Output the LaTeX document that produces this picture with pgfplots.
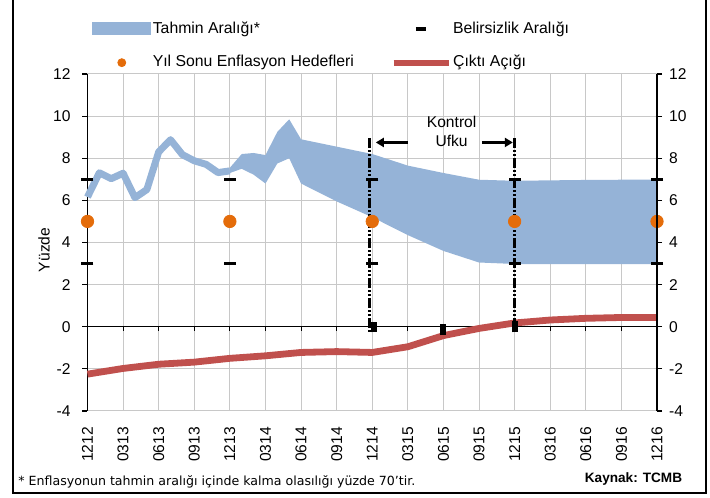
\documentclass[border=0pt]{standalone}
\usepackage{fontspec}
\setmainfont{Liberation Sans}
\newfontfamily\notefont{DejaVu Sans}
\usepackage{pgfplots}
\pgfplotsset{compat=1.18}
\usetikzlibrary{arrows.meta}
\definecolor{bandblue}{HTML}{95B3D7}
\definecolor{gapred}{HTML}{C0504D}
\definecolor{hedef}{HTML}{E46C0A}
\definecolor{gridgray}{HTML}{C8C8C8}
\pgfplotsset{
  common/.style={width=284.75pt, height=168.5pt, scale only axis,
    xmin=0, xmax=16, ymin=-4, ymax=12, ytick={-4,-2,...,12},
    tick align=outside, major tick length=2.5pt,
    /pgf/number format/assume math mode=true,
    tick label style={font=\fontsize{7.8}{9}\selectfont},
    clip=false, at={(0,0)}, anchor=south west,
    y axis line style={black, line width=0.6pt},
    ytick style={black, line width=0.6pt}}
}
\begin{document}
\begin{tikzpicture}
\useasboundingbox (-43.75pt,-43pt) rectangle (311.25pt,205.5pt);
\begin{axis}[common,
  axis y line*=left, axis x line*=bottom,
  x axis line style={draw=none},
  xtick={0,...,16},
  xticklabels={1212,0313,0613,0913,1213,0314,0614,0914,1214,0315,0615,0915,1215,0316,0616,0916,1216},
  xtick style={draw=none},
  xticklabel style={rotate=90, anchor=east},
  xticklabel shift=2pt,
  yticklabel shift=2.5pt,
  grid=major, grid style={gridgray, line width=0.5pt},
  ylabel={Yüzde},
  ylabel style={at={(axis description cs:-0.0764,0.478)}, anchor=center, font=\fontsize{7.8}{9}\selectfont},
  legend style={at={(axis description cs:0,1)}, anchor=south west, xshift=2.25pt, yshift=1pt,
    draw=none, fill=none, inner sep=0pt, legend columns=2,
    font=\fontsize{7.9}{9}\selectfont,
    /tikz/every even column/.append style={column sep=17.5pt},
    row sep=8pt, nodes={inner sep=0.8pt}},
  legend cell align=left,
]
\addlegendimage{legend image code/.code={\fill[bandblue] (0pt,-3pt) rectangle (29pt,3pt);}}
\addlegendimage{legend image code/.code={\path[draw=none] (0pt,0pt) -- (27.5pt,0pt); \draw[black, line width=2pt] (11.2pt,0pt) -- (16.3pt,0pt);}}
\addlegendimage{legend image code/.code={\path[draw=none] (0pt,0pt) -- (29pt,0pt); \fill[hedef] (14.5pt,0pt) circle (2pt);}}
\addlegendimage{legend image code/.code={\draw[gapred, line width=3pt] (0pt,0pt) -- (27.5pt,0pt);}}

% forecast band
\addplot[fill=bandblue, draw=none, forget plot] coordinates {
 (4,7.55) (4.333,8.2) (4.667,8.25) (5,8.15) (5.333,9.25) (5.667,9.85) (6,8.9)
 (7,8.55) (8,8.2) (9,7.65) (10,7.3) (11,6.98) (12,6.93) (13,6.95) (14,6.97) (15,6.98) (16,6.98)
 (16,2.97) (15,2.97) (14,2.97) (13,2.97) (12,2.98) (11,3.05) (10,3.6) (9,4.35) (8,5.2) (7,5.95)
 (6,6.8) (5.667,8.0) (5.333,7.75) (5,6.8) (4.667,7.22) (4.333,7.5) (4,7.3)
} -- cycle;
% realised inflation
\addplot[bandblue, line width=3.5pt, line join=round, forget plot] coordinates {
 (0,6.16) (0.333,7.31) (0.667,7.03) (1,7.29) (1.333,6.13) (1.667,6.51) (2,8.30)
 (2.333,8.88) (2.667,8.17) (3,7.88) (3.333,7.71) (3.667,7.32) (4,7.40)
};
% zero line
\draw[black, line width=0.6pt] (axis cs:0,0) -- (axis cs:16,0);
\pgfplotsinvokeforeach{1,...,15}{\draw[black, line width=0.5pt] (axis cs:#1,0) -- ++(0pt,-2pt);}
% output gap
\addplot[gapred, line width=3.4pt, line join=round, forget plot] coordinates {
 (0,-2.25) (1,-1.98) (2,-1.78) (3,-1.68) (4,-1.5) (5,-1.38) (6,-1.22) (7,-1.18) (8,-1.22)
 (9,-0.95) (10,-0.42) (11,-0.08) (12,0.18) (13,0.32) (14,0.40) (15,0.44) (16,0.44)
};
\addplot[black, line width=3pt, forget plot] coordinates {(8.05,-0.27) (8.05,0.22)};
\addplot[black, line width=3pt, forget plot] coordinates {(10,-0.4) (10,0.13)};
\addplot[black, line width=3pt, forget plot] coordinates {(12,-0.27) (12,0.28)};
% control horizon
\draw[black, line width=1.2pt, dash pattern=on 5pt off 1pt on 1pt off 1pt on 1pt off 1pt] (axis cs:7.92,8.95) -- (axis cs:7.92,-0.3);
\draw[black, line width=1.2pt, dash pattern=on 5pt off 1pt on 1pt off 1pt on 1pt off 1pt] (axis cs:12,8.95) -- (axis cs:12,-0.3);
\draw[black, line width=1.2pt, -{Triangle[length=4pt,width=4.5pt]}] (axis cs:9.0,8.75) -- (axis cs:8.1,8.75);
\draw[black, line width=1.2pt, -{Triangle[length=4pt,width=4.5pt]}] (axis cs:11.08,8.75) -- (axis cs:11.95,8.75);
\node[align=center, font=\fontsize{7.8}{9.5}\selectfont] at (axis cs:10.23,9.25) {Kontrol\\Ufku};
% uncertainty interval
\addplot[only marks, mark=-, mark size=3pt, mark options={line width=1.8pt, black}, forget plot] coordinates {
 (0,7) (4,7) (8,7) (12,7) (16,7) (0,3) (4,3) (8,3) (12,3) (16,3)};
% targets
\addplot[only marks, mark=*, mark size=3.1pt, hedef, mark options={draw=hedef, fill=hedef}, forget plot] coordinates {
 (0,5) (4,5) (8,5) (12,5) (16,5)};
\legend{Tahmin Aralığı*, Belirsizlik Aralığı, Yıl Sonu Enflasyon Hedefleri, Çıktı Açığı}
\end{axis}
\begin{axis}[common, axis y line*=right, hide x axis]
\addplot[draw=none] coordinates {(0,0)};
\end{axis}
\draw[black, line width=0.8pt] (-37.25pt,206pt) -- (-37.25pt,-41pt) -- (309.25pt,-41pt) -- (309.25pt,206pt);
\node[anchor=west, inner sep=0pt, font=\notefont\fontsize{6.3}{7}\selectfont] at (-34.75pt,-35.5pt) {* Enflasyonun tahmin aralığı içinde kalma olasılığı yüzde 70’tir.};
\node[anchor=east, inner sep=0pt, font=\bfseries\fontsize{6.8}{8}\selectfont] at (297.5pt,-34pt) {Kaynak: TCMB};
\end{tikzpicture}
\end{document}
